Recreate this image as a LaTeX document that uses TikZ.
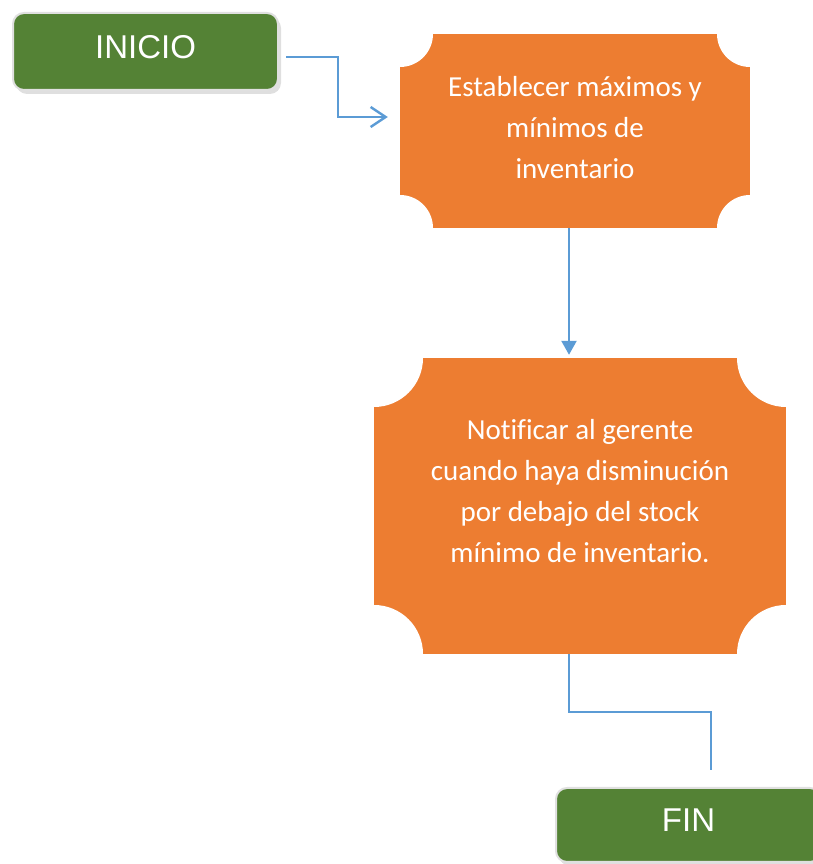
\documentclass[tikz,border=0pt]{standalone}
\usepackage{fontspec}
\setmainfont{Carlito}[Ligatures=NoCommon]
\newfontfamily\arialfont{Liberation Sans}
\usetikzlibrary{arrows.meta,shadows}

\definecolor{boxgreen}{RGB}{84,130,53}
\definecolor{boxorange}{RGB}{237,125,49}
\definecolor{linkblue}{RGB}{91,155,213}

\tikzset{
	termbox/.style={rectangle, rounded corners=11pt, fill=boxgreen, draw=white!88!black,
		line width=2pt, minimum width=265pt, minimum height=#1, text=white,
		font={\arialfont\fontsize{33}{40}\selectfont}, text depth=10pt,
		drop shadow={shadow xshift=3pt, shadow yshift=-4pt, opacity=0.25}},
	actbox/.style={rectangle, text=white, font={\fontsize{29}{41}\selectfont},
		path picture={
			\fill[boxorange] (path picture bounding box.south west) rectangle (path picture bounding box.north east);
			\foreach \corner in {north west,north east,south west,south east}
				\fill[white] (path picture bounding box.\corner) circle (#1);
		}},
	link/.style={draw=linkblue, line width=2.4pt}
}

\begin{document}
\begin{tikzpicture}[x=1pt,y=1pt]
	\useasboundingbox (0,0) rectangle (813,864);

	% start / end
	\node[termbox=77pt] (inicio) at (145.5,812.5) {INICIO};
	\node[termbox=74pt] (fin) at (688.5,39) {FIN};

	% steps
	\node[actbox=33pt, minimum width=350pt, minimum height=194pt] (limites) at (575,733)
		{\parbox{330pt}{\centering Establecer máximos y\\ mínimos de\\ inventario\par\kern6pt}};
	\node[actbox=49pt, minimum width=412pt, minimum height=296pt] (aviso) at (580,358)
		{\parbox{390pt}{\centering Notificar al gerente\\ cuando haya disminución\\ por debajo del stock\\ mínimo de inventario.\par\kern30pt}};

	% connectors
	\draw[link, shorten <=7pt, shorten >=12pt, -{Straight Barb[length=15pt,width=20pt]}]
		([yshift=-5.5pt]inicio.east) -- ++(59,0) |- ([yshift=14pt]limites.west);
	\draw[link, shorten >=3pt, -{Triangle[length=14pt,width=15pt]}]
		([xshift=-6pt]limites.south) -- ([xshift=-11pt]aviso.north);
	\draw[linkblue, line width=1.2pt]
		([xshift=-11pt]aviso.south) |- ([xshift=22.5pt,yshift=75pt]fin.north)
		-- ([xshift=22.5pt,yshift=17pt]fin.north);
\end{tikzpicture}
\end{document}
